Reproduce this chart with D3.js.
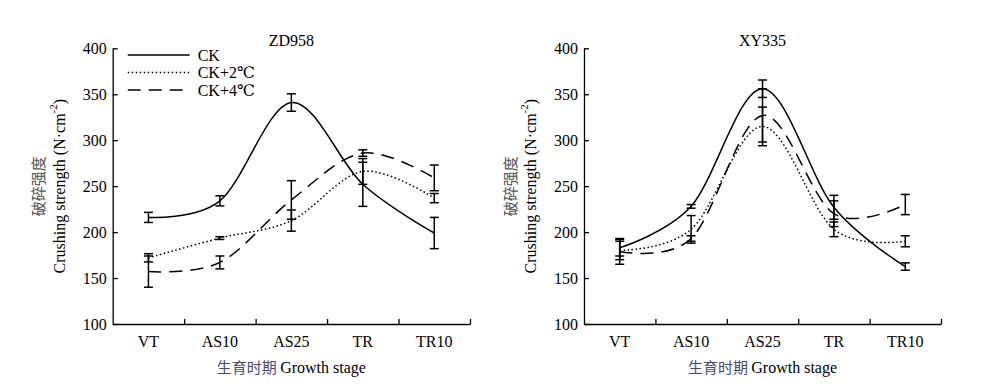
<!DOCTYPE html>
<html lang="en">
<head>
  <meta charset="UTF-8">
  <title>Crushing strength</title>
  <script src="https://d3js.org/d3.v7.min.js"></script>
  <style>
    body, html { margin: 0; padding: 0; background: #fff; }
    svg text, svg tspan { font-family: "Liberation Serif", "Times New Roman", Times, "DejaVu Serif", serif; }
    svg .cjk { font-family: "Noto Sans CJK SC", sans-serif; }
  </style>
</head>
<body>
<svg width="984" height="388"></svg>
<script>
  // growth stages and y ticks
  const stages = ["VT", "AS10", "AS25", "TR", "TR10"];
  const yTicks = [100, 150, 200, 250, 300, 350, 400];
  const seriesNames = ["CK", "CK+2℃", "CK+4℃"];

  // ZD958
  const zdCK = [216, 234, 341, 252, 199];
  const zdCKErr = [5.5, 5.5, 9.5, 24, 17];
  const zdCK2 = [172, 193.5, 212.5, 266, 237];
  const zdCK2Err = [4.5, 1.5, 11.5, 14, 5];
  const zdCK4 = [157, 167, 235, 286, 259];
  const zdCK4Err = [17, 7, 21, 3.5, 14];

  // XY335
  const xyCK = [183, 228, 356, 227, 162.5];
  const xyCKErr = [9, 2, 9.5, 13, 4];
  const xyCK2 = [180, 203, 315, 203, 190];
  const xyCK2Err = [10, 15, 21, 8, 6];
  const xyCK4 = [179, 193, 327, 220, 230];
  const xyCK4Err = [14, 3, 29, 14, 11];

  const dashes = [null, "1.5,2.5", "13,8"];
  const serif = "'Liberation Serif', 'Times New Roman', 'DejaVu Serif', serif";

  const svg = d3.select("svg");
  const plotTop = 48.3, plotBottom = 324;

  function panel(x0, x1, title, vals, errs, showLegend) {
    const g = svg.append("g").attr("font-family", serif);
    const x = d3.scaleBand().domain(stages).range([x0, x1]);
    const xTick = d3.scaleLinear().domain([0, stages.length]).range([x0, x1]);
    const y = d3.scaleLinear().domain([100, 400]).range([plotBottom, plotTop]);
    const cx = d => x(d) + x.bandwidth() / 2;

    // y axis
    const ya = g.append("g")
      .attr("transform", `translate(${x0},0)`)
      .call(d3.axisLeft(y).tickValues(yTicks).tickSizeInner(-5).tickSizeOuter(0).tickPadding(6))
      .attr("font-family", serif).attr("font-size", 16);
    ya.selectAll("text").attr("fill", "#000");

    // x axis: ticks at band edges, labels in bands
    g.append("g")
      .attr("transform", `translate(0,${plotBottom})`)
      .call(d3.axisBottom(xTick).tickValues([1, 2, 3, 4, 5]).tickSizeInner(-5).tickSizeOuter(0).tickFormat(""));
    g.append("g")
      .attr("transform", `translate(0,${plotBottom})`)
      .call(d3.axisBottom(x).tickSize(0).tickPadding(12))
      .attr("font-family", serif).attr("font-size", 16)
      .call(s => s.select(".domain").remove())
      .selectAll("text").attr("fill", "#000");
    g.selectAll(".domain, .tick line").attr("stroke", "#000").attr("stroke-width", 1.3);

    // title
    g.append("text").attr("x", (x0 + x1) / 2).attr("y", 46)
      .attr("text-anchor", "middle").attr("font-size", 16).text(title);

    // y label
    const ly = (plotTop + plotBottom) / 2;
    g.append("text").attr("class", "cjk")
      .attr("transform", `translate(${x0 - 75},${ly}) rotate(-90)`)
      .attr("text-anchor", "middle").attr("dominant-baseline", "central")
      .attr("font-size", 15).attr("fill", "#555").text("破碎强度");
    const t2 = g.append("text")
      .attr("transform", `translate(${x0 - 54},${ly}) rotate(-90)`)
      .attr("text-anchor", "middle").attr("dominant-baseline", "central")
      .attr("font-size", 16);
    t2.append("tspan").text("Crushing strength (N·cm");
    t2.append("tspan").attr("font-size", 11).attr("dy", -6).text("-2");
    t2.append("tspan").attr("dy", 6).text(")");

    // x label
    const xl = g.append("text").attr("x", (x0 + x1) / 2).attr("y", 373)
      .attr("text-anchor", "middle").attr("font-size", 16);
    xl.append("tspan").attr("class", "cjk").attr("font-size", 15).attr("fill", "#4a4a66").text("生育时期 ");
    xl.append("tspan").text("Growth stage");

    const line = d3.line()
      .curve(d3.curveCardinal.tension(0))
      .x((d, i) => cx(stages[i]))
      .y(d => y(d));

    vals.forEach((v, k) => {
      g.append("path").datum(v)
        .attr("d", line).attr("fill", "none")
        .attr("stroke", "#000").attr("stroke-width", 1.5)
        .attr("stroke-dasharray", dashes[k]);

      const eb = g.append("g").selectAll("g").data(v).join("g");
      eb.append("line")
        .attr("x1", (d, i) => cx(stages[i])).attr("x2", (d, i) => cx(stages[i]))
        .attr("y1", (d, i) => y(d + errs[k][i])).attr("y2", (d, i) => y(d - errs[k][i]));
      [1, -1].forEach(sgn => {
        eb.append("line")
          .attr("x1", (d, i) => cx(stages[i]) - 4.5).attr("x2", (d, i) => cx(stages[i]) + 4.5)
          .attr("y1", (d, i) => y(d + sgn * errs[k][i])).attr("y2", (d, i) => y(d + sgn * errs[k][i]));
      });
      eb.selectAll("line").attr("stroke", "#000").attr("stroke-width", 1.5);
    });

    if (showLegend) {
      const lg = g.append("g");
      seriesNames.forEach((n, k) => {
        const yy = 55 + k * 17.5;
        lg.append("line").attr("x1", x0 + 15).attr("x2", x0 + 77)
          .attr("y1", yy).attr("y2", yy)
          .attr("stroke", "#000").attr("stroke-width", 1.5)
          .attr("stroke-dasharray", dashes[k]);
        lg.append("text").attr("x", x0 + 85).attr("y", yy)
          .attr("dominant-baseline", "central").attr("font-size", 16).text(n);
      });
    }
  }

  panel(112.7, 470, "ZD958", [zdCK, zdCK2, zdCK4], [zdCKErr, zdCK2Err, zdCK4Err], true);
  panel(584, 941, "XY335", [xyCK, xyCK2, xyCK4], [xyCKErr, xyCK2Err, xyCK4Err], false);
</script>
</body>
</html>
